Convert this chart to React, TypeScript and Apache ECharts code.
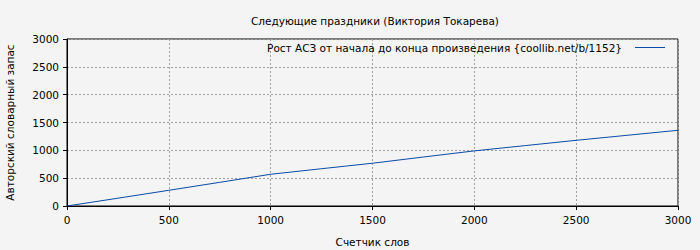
import React, { useEffect, useRef } from "react";
import * as echarts from "echarts";

const title = "Следующие праздники (Виктория Токарева)";
const seriesName = "Рост АСЗ от начала до конца произведения {coollib.net/b/1152}";
const xName = "Счетчик слов";
const yName = "Авторский словарный запас";
const words = [0, 250, 500, 750, 1000, 1250, 1500, 1750, 2000, 2250, 2500, 2750, 3000];
const vocab = [0, 140, 282, 425, 570, 670, 768, 880, 990, 1085, 1180, 1270, 1360];

export default function App() {
  const ref = useRef<HTMLDivElement>(null);
  useEffect(() => {
    const chart = echarts.init(ref.current!, null, { renderer: "svg" });
    const font = "DejaVu Sans";
    const fs = 10.5;
    chart.setOption({
      animation: false,
      backgroundColor: "#f4f4f4",
      textStyle: { fontFamily: font },
      title: {
        text: title,
        left: 370,
        textAlign: "center",
        top: 10,
        textStyle: { fontFamily: font, fontSize: fs, fontWeight: "normal", color: "#000" },
      },
      legend: {
        right: 30,
        top: 37,
        align: "right",
        itemWidth: 30,
        itemHeight: 1,
        itemGap: 0,
        textStyle: { fontFamily: font, fontSize: fs, color: "#000", padding: [0, 8, 0, 0] },
        data: [{ name: seriesName, icon: "rect", itemStyle: { color: "#0a4aa8" } }],
      },
      grid: {
        left: 67,
        right: 22,
        top: 39,
        bottom: 44,
        outerBoundsMode: "none",
        containLabel: false,
        show: true,
        borderColor: "#000",
        borderWidth: 1,
        backgroundColor: "transparent",
      },
      xAxis: {
        type: "value",
        min: 0,
        max: 3000,
        interval: 500,
        name: xName,
        nameLocation: "middle",
        nameGap: 30,
        nameTextStyle: { fontFamily: font, fontSize: fs, color: "#000" },
        axisLine: { lineStyle: { color: "#000" } },
        axisTick: { show: true, length: 4, lineStyle: { color: "#000" } },
        axisLabel: { fontFamily: font, fontSize: fs, color: "#000", margin: 8, formatter: (v: number) => String(v) },
        splitLine: { show: true, lineStyle: { color: "#a0a0a0", type: [2, 2] } },
      },
      yAxis: {
        type: "value",
        min: 0,
        max: 3000,
        interval: 500,
        name: yName,
        nameLocation: "middle",
        nameGap: 52,
        nameTextStyle: { fontFamily: font, fontSize: fs, color: "#000" },
        axisLine: { show: true, lineStyle: { color: "#000" } },
        axisTick: { show: true, length: 4, lineStyle: { color: "#000" } },
        axisLabel: { fontFamily: font, fontSize: fs, color: "#000", margin: 8, formatter: (v: number) => String(v) },
        splitLine: { show: true, lineStyle: { color: "#a0a0a0", type: [2, 2] } },
      },
      series: [
        {
          name: seriesName,
          type: "line",
          data: words.map((w, i) => [w, vocab[i]]),
          symbol: "none",
          showSymbol: false,
          lineStyle: { color: "#0a4aa8", width: 1 },
          itemStyle: { color: "#0a4aa8" },
        },
      ],
    });
    return () => chart.dispose();
  }, []);
  return (
    <div
      ref={ref}
      style={{ position: "fixed", left: 0, top: 0, width: 700, height: 250 }}
    />
  );
}
